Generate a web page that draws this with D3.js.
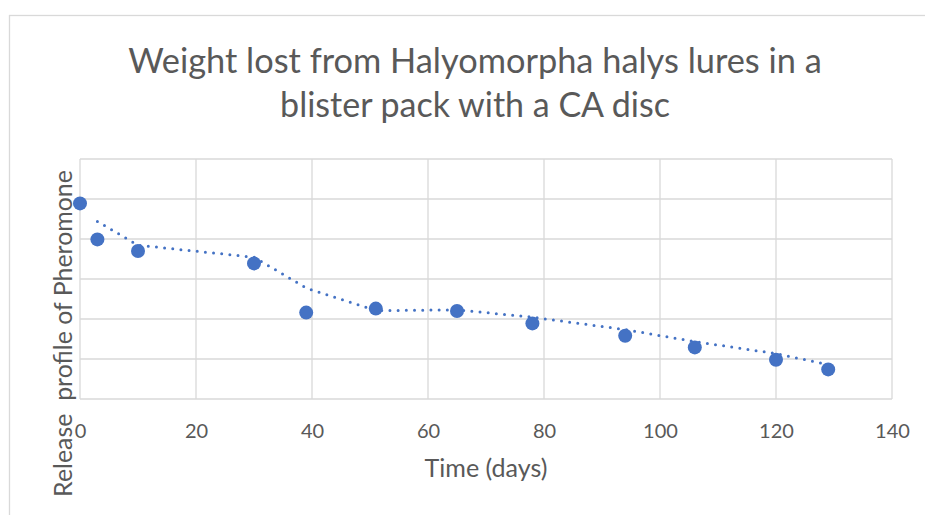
<!DOCTYPE html>
<html>
<head>
<meta charset="utf-8">
<script src="https://cdn.jsdelivr.net/npm/d3@7"></script>
<style>
  html, body { margin: 0; padding: 0; background: #fff; }
  svg { display: block; }
  text { font-family: Lato, "Open Sans", sans-serif; fill: #595959; }
</style>
</head>
<body>
<svg id="chart" width="925" height="515"></svg>
<script>
// ---- data ----
const days = [0, 3, 10, 30, 39, 51, 65, 78, 94, 106, 120, 129];
const release = [4.89, 3.99, 3.70, 3.39, 2.16, 2.26, 2.20, 1.89, 1.58, 1.29, 0.98, 0.74];
const xTicks = [0, 20, 40, 60, 80, 100, 120, 140];
const yGrid = [0, 1, 2, 3, 4, 5, 6];
const titleLines = ["Weight lost from Halyomorpha halys lures in a", "blister pack with a CA disc"];
const xTitle = "Time (days)";
const yTitle = "Release  profile of Pheromone";

const svg = d3.select("#chart");

// chart border
svg.append("rect").attr("x", 9.5).attr("y", 15.5).attr("width", 940).attr("height", 520)
  .attr("fill", "#fff").attr("stroke", "#d9d9d9").attr("stroke-width", 1.3);

const x = d3.scaleLinear().domain([0, 140]).range([80, 892]);
const y = d3.scaleLinear().domain([0, 6]).range([399, 159]);

// gridlines
const g = svg.append("g");
g.selectAll("line.h").data(yGrid).join("line")
  .attr("x1", x(0)).attr("x2", x(140))
  .attr("y1", d => y(d)).attr("y2", d => y(d))
  .attr("stroke", "#d9d9d9").attr("stroke-width", 1.3);
g.selectAll("line.v").data(xTicks).join("line")
  .attr("x1", d => x(d)).attr("x2", d => x(d))
  .attr("y1", y(0)).attr("y2", y(6))
  .attr("stroke", "#d9d9d9").attr("stroke-width", 1.3);

// x axis tick labels
const xAxis = d3.axisBottom(x).tickValues(xTicks).tickSize(0).tickPadding(0);
const xa = svg.append("g").attr("transform", `translate(0,${y(0)})`).call(xAxis);
xa.select(".domain").remove();
xa.selectAll("text").attr("y", 39).attr("dy", 0)
  .style("font-size", "20px").style("font-family", "Lato, sans-serif").attr("fill", "#595959");

// trendline: 2-period moving average
const pts = days.map((d, i) => ({ x: d, v: release[i] }));
const ma = pts.slice(1).map((p, i) => ({ x: p.x, v: (pts[i].v + p.v) / 2 }));
const line = d3.line().x(d => x(d.x)).y(d => y(d.v));
svg.append("path").datum(ma).attr("d", line)
  .attr("fill", "none").attr("stroke", "#4472C4").attr("stroke-width", 3)
  .attr("stroke-linecap", "round").attr("stroke-dasharray", "0 8.2");

// markers
svg.append("g").selectAll("circle").data(pts).join("circle")
  .attr("cx", d => x(d.x)).attr("cy", d => y(d.v)).attr("r", 7)
  .attr("fill", "#4472C4");

// helper to fit text width
function fit(sel, target, base) {
  sel.style("font-size", base + "px");
  const w = sel.node().getComputedTextLength();
  sel.style("font-size", (base * target / w) + "px");
}

// title
const t1 = svg.append("text").attr("x", 475).attr("y", 73).attr("text-anchor", "middle").text(titleLines[0]);
fit(t1, 694, 30);
const t2 = svg.append("text").attr("x", 475).attr("y", 117).attr("text-anchor", "middle").text(titleLines[1]);
fit(t2, 390, 30);

// axis titles
const xt = svg.append("text").attr("x", 486).attr("y", 477).attr("text-anchor", "middle").text(xTitle);
fit(xt, 123, 22);
const yt = svg.append("text").attr("transform", "translate(72,333.5) rotate(-90)")
  .attr("text-anchor", "middle").attr("xml:space", "preserve").style("white-space", "pre").text(yTitle);
fit(yt, 327, 22);
</script>
</body>
</html>
